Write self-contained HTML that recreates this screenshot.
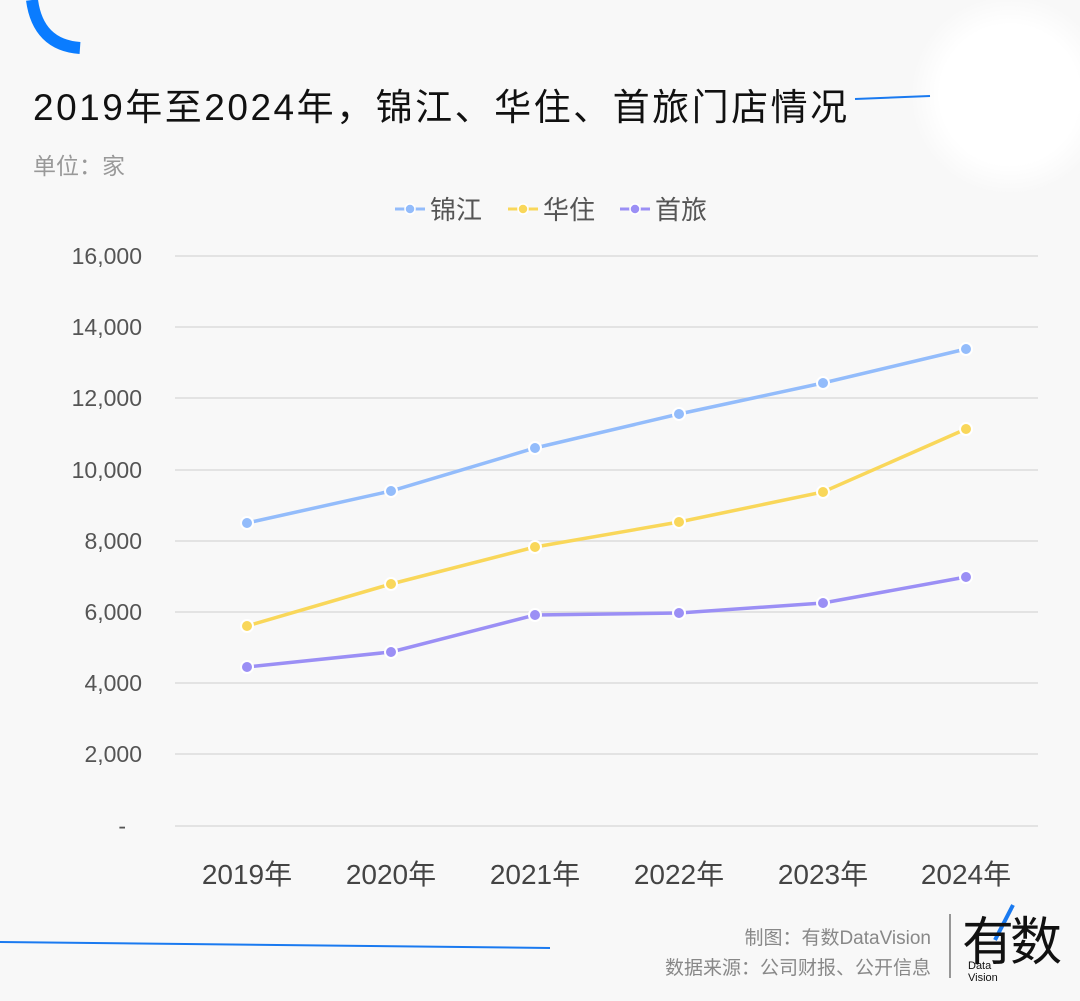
<!DOCTYPE html>
<html><head><meta charset="utf-8"><style>
html,body{margin:0;padding:0;}
body{width:1080px;height:1001px;background:#f8f8f8;position:relative;overflow:hidden;font-family:"Liberation Sans","Noto Sans CJK SC",sans-serif;}
.t{position:absolute;white-space:nowrap;}
</style></head><body>
<svg width="1080" height="1001" style="position:absolute;left:0;top:0">
<defs><radialGradient id="g" cx="50%" cy="50%" r="50%"><stop offset="70%" stop-color="#fff"/><stop offset="100%" stop-color="#fff" stop-opacity="0"/></radialGradient></defs>
<circle cx="1010" cy="95" r="100" fill="url(#g)"/>
<path d="M32,0 Q38,45 80,48" fill="none" stroke="#0a7cff" stroke-width="12"/>
<line x1="855" y1="99" x2="930" y2="96" stroke="#1a7af0" stroke-width="2"/>
<line x1="0" y1="942" x2="550" y2="948" stroke="#1a7af0" stroke-width="2"/>
<g stroke="#dcdcdc" stroke-width="1.5">
<line x1="175" y1="256" x2="1038" y2="256"/><line x1="175" y1="327" x2="1038" y2="327"/>
<line x1="175" y1="398" x2="1038" y2="398"/><line x1="175" y1="470" x2="1038" y2="470"/>
<line x1="175" y1="541" x2="1038" y2="541"/><line x1="175" y1="612" x2="1038" y2="612"/>
<line x1="175" y1="683" x2="1038" y2="683"/><line x1="175" y1="754" x2="1038" y2="754"/>
<line x1="175" y1="826" x2="1038" y2="826"/>
</g>
<g fill="none" stroke-width="3.5">
<polyline stroke="#93bcfb" points="247,523 391,491 535,448 679,414 823,383 966,349"/>
<polyline stroke="#f9d75a" points="247,626 391,584 535,547 679,522 823,492 966,429"/>
<polyline stroke="#9b8ff5" points="247,667 391,652 535,615 679,613 823,603 966,577"/>
</g>
<g stroke="#fff" stroke-width="2">
<g fill="#93bcfb"><circle cx="247" cy="523" r="6"/><circle cx="391" cy="491" r="6"/><circle cx="535" cy="448" r="6"/><circle cx="679" cy="414" r="6"/><circle cx="823" cy="383" r="6"/><circle cx="966" cy="349" r="6"/></g>
<g fill="#f9d75a"><circle cx="247" cy="626" r="6"/><circle cx="391" cy="584" r="6"/><circle cx="535" cy="547" r="6"/><circle cx="679" cy="522" r="6"/><circle cx="823" cy="492" r="6"/><circle cx="966" cy="429" r="6"/></g>
<g fill="#9b8ff5"><circle cx="247" cy="667" r="6"/><circle cx="391" cy="652" r="6"/><circle cx="535" cy="615" r="6"/><circle cx="679" cy="613" r="6"/><circle cx="823" cy="603" r="6"/><circle cx="966" cy="577" r="6"/></g>
</g>
<g stroke-width="3"><line x1="395" y1="209" x2="425" y2="209" stroke="#93bcfb"/><line x1="508" y1="209" x2="538" y2="209" stroke="#f9d75a"/><line x1="620" y1="209" x2="650" y2="209" stroke="#9b8ff5"/></g>
<circle cx="410" cy="209" r="5" fill="#93bcfb" stroke="#fff" stroke-width="1.5"/>
<circle cx="523" cy="209" r="5" fill="#f9d75a" stroke="#fff" stroke-width="1.5"/>
<circle cx="635" cy="209" r="5" fill="#9b8ff5" stroke="#fff" stroke-width="1.5"/>
<g font-family="Liberation Sans, Noto Sans CJK SC, sans-serif" font-size="23" fill="#555" text-anchor="end">
<text x="142" y="264">16,000</text><text x="142" y="335">14,000</text><text x="142" y="406">12,000</text>
<text x="142" y="478">10,000</text><text x="142" y="549">8,000</text><text x="142" y="620">6,000</text>
<text x="142" y="691">4,000</text><text x="142" y="762">2,000</text><text x="126" y="834">-</text>
</g>
<g font-family="Liberation Sans, Noto Sans CJK SC, sans-serif" font-size="28" fill="#444" text-anchor="middle">
<text x="247" y="884">2019年</text><text x="391" y="884">2020年</text><text x="535" y="884">2021年</text>
<text x="679" y="884">2022年</text><text x="823" y="884">2023年</text><text x="966" y="884">2024年</text>
</g>
<g font-family="Liberation Sans, Noto Sans CJK SC, sans-serif" font-size="26" fill="#555">
<text x="430" y="219">锦江</text><text x="543" y="219">华住</text><text x="655" y="219">首旅</text>
</g>
<line x1="950" y1="914" x2="950" y2="978" stroke="#777" stroke-width="1.5"/>
<path d="M1013,905 L995,940" stroke="#1a7af0" stroke-width="4"/>
</svg>
<div class="t" style="left:33px;top:77px;font-size:37px;letter-spacing:2.5px;color:#111;">2019年至2024年，锦江、华住、首旅门店情况</div>
<div class="t" style="left:33px;top:147px;font-size:23px;color:#999;">单位：家</div>
<div class="t" style="right:149px;top:923px;font-size:19px;color:#888;">制图：有数DataVision</div>
<div class="t" style="right:149px;top:953px;font-size:19px;color:#888;">数据来源：公司财报、公开信息</div>
<div class="t" style="left:962px;top:900px;font-size:52px;color:#111;letter-spacing:-4px;">有数</div>
<div class="t" style="left:968px;top:960px;font-size:11px;color:#111;line-height:12px;">Data<br>Vision</div>
</body></html>
